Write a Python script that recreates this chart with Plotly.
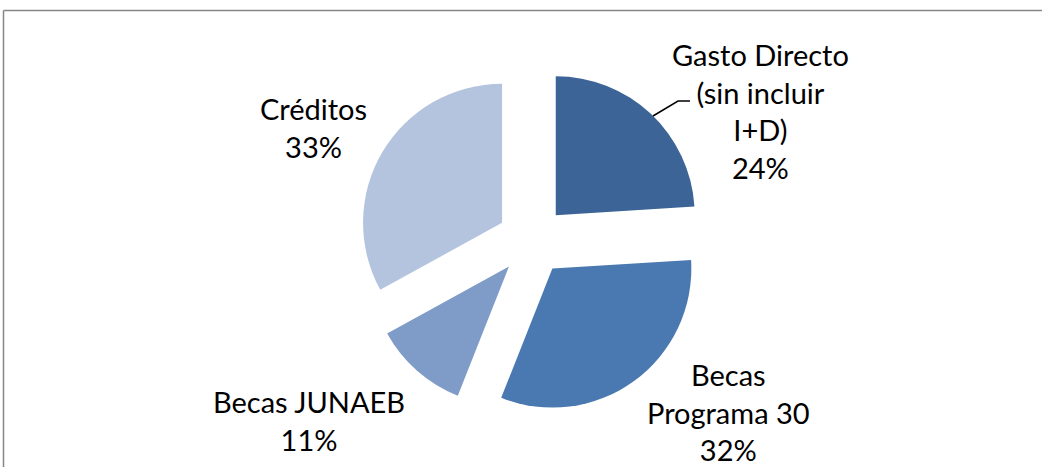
import plotly.graph_objects as go

# Data
labels = ["Gasto Directo (sin incluir I+D)", "Becas Programa 30", "Becas JUNAEB", "Créditos"]
label_lines = [["Gasto Directo", "(sin incluir", "I+D)"], ["Becas", "Programa 30"], ["Becas JUNAEB"], ["Créditos"]]
values = [24, 32, 11, 33]
colors = ["#3C6496", "#4A79B2", "#7F9BC8", "#B4C3DE"]

W, H = 1042, 467

def px(x):
    return x / W

def py(y):
    return 1 - y / H

fig = go.Figure()
fig.add_trace(go.Pie(
    labels=labels,
    values=values,
    sort=False,
    direction="clockwise",
    rotation=0,
    pull=[0.25] * len(values),
    marker=dict(colors=colors, line=dict(width=0)),
    textinfo="none",
    hoverinfo="skip",
    showlegend=False,
    domain=dict(x=[0.30, 0.721], y=[0.113, 0.857]),
))

# label positions (pixel centres)
label_pos = [(760, 111), (728, 412), (309, 420), (313, 127)]
annotations = []
for lines, v, (x, y) in zip(label_lines, values, label_pos):
    text = "<br>".join(lines + [f"{v}%"])
    annotations.append(dict(
        x=px(x), y=py(y), xref="paper", yref="paper",
        text=text, showarrow=False, xanchor="center", yanchor="middle",
        align="center", font=dict(family="Lato, Carlito, sans-serif", size=29, color="#000000"),
    ))

shapes = [
    # chart border (only top and left visible; cropped on right and bottom)
    dict(type="line", xref="paper", yref="paper",
         x0=px(3.5), y0=py(10.5), x1=1.0, y1=py(10.5),
         line=dict(color="#878787", width=1.5)),
    dict(type="line", xref="paper", yref="paper",
         x0=px(3.5), y0=py(10.5), x1=px(3.5), y1=0.0,
         line=dict(color="#878787", width=1.5)),
    # leader line
    dict(type="path", xref="paper", yref="paper",
         path=f"M {px(653)} {py(116)} L {px(678)} {py(101)} L {px(690)} {py(101)}",
         line=dict(color="#000000", width=1.5)),
]

fig.update_layout(
    width=W, height=H,
    margin=dict(l=0, r=0, t=0, b=0),
    paper_bgcolor="white",
    plot_bgcolor="white",
    annotations=annotations,
    shapes=shapes,
    hovermode=False,
)

fig.write_html(
    "out.html",
    config={"displayModeBar": False, "staticPlot": True},
    post_script="document.body.style.margin='0';document.body.style.overflow='hidden';",
)
